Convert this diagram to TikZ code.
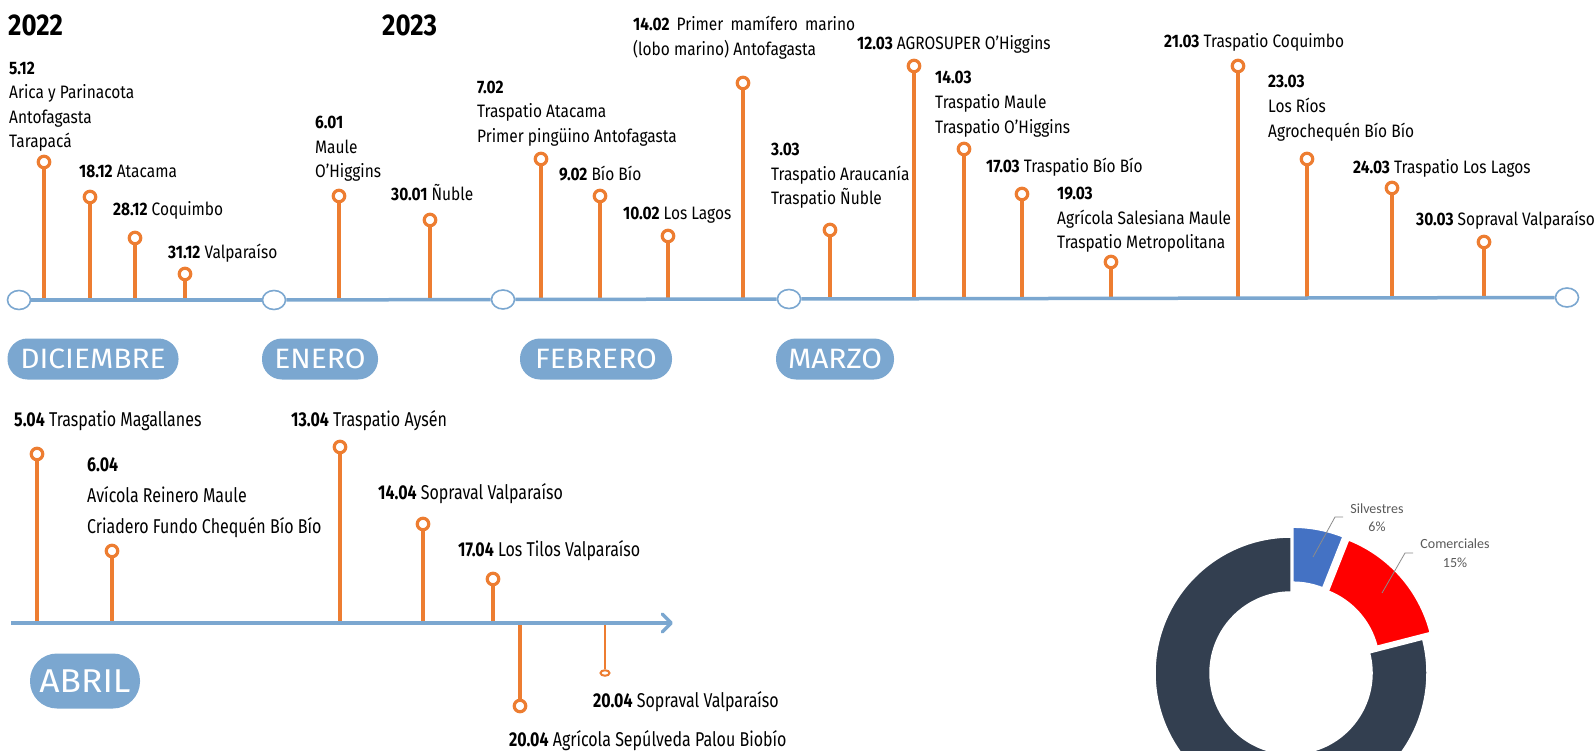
\documentclass[tikz,border=0pt]{standalone}
\usepackage{fontspec}
\setmainfont{Fira Sans}[FakeStretch=0.86]
\newfontfamily\aprfont{Fira Sans}[FakeStretch=0.8]
\newfontfamily\monthfont{Fira Sans}[FakeStretch=1.07]
\newfontfamily\piefont{Carlito}
\usetikzlibrary{shapes.geometric,arrows.meta}
\definecolor{tlblue}{HTML}{7BA7D0}
\definecolor{evorange}{HTML}{ED7D31}
\definecolor{piedark}{HTML}{333F50}
\definecolor{pieblue}{HTML}{4472C4}
\definecolor{piered}{HTML}{FF0000}
\definecolor{piegray}{HTML}{595959}

\begin{document}
\begin{tikzpicture}[x=1pt,y=-1pt,
  axis/.style={draw=tlblue,line width=3.5pt},
  stem/.style={draw=evorange,line width=3.5pt},
  pin/.style={circle,draw=evorange,line width=3.2pt,fill=white,minimum size=11.5pt,inner sep=0pt},
  knot/.style={ellipse,draw=tlblue,line width=1.6pt,fill=white,minimum width=23pt,minimum height=19pt,inner sep=0pt},
  lbl/.style={anchor=west,inner sep=0pt,text height=12.5pt,text depth=0pt,font=\fontsize{18}{21}\selectfont},
  apr/.style={anchor=west,inner sep=0pt,text height=14pt,text depth=0pt,font=\aprfont\fontsize{20}{24}\selectfont},
  month/.style={fill=tlblue,text=white,rounded corners=20pt,minimum height=41pt,inner sep=0pt,font=\monthfont\fontsize{28}{30}\selectfont},
  year/.style={anchor=west,inner sep=0pt,font=\bfseries\fontsize{30}{32}\selectfont},
  pielbl/.style={inner sep=0pt,text=piegray,font=\piefont\fontsize{14}{16}\selectfont},
  leader/.style={draw=piegray!70,line width=0.8pt}]
\clip (0,0) rectangle (1595,751);

% years
\node[year] (y2022) at (8,25) {2022};
\node[year] (y2023) at (382,25) {2023};

% diciembre
\node[pin] (p512) at (44,162) {};
\coordinate (b512) at (44,300);
\draw[stem] (b512) -- (p512);
\node[lbl] (t512a) at (9,68) {\textbf{5.12}};
\node[lbl] (t512b) at (9,92) {Arica y Parinacota};
\node[lbl] (t512c) at (9,117) {Antofagasta};
\node[lbl] (t512d) at (9,141) {Tarapacá};
\node[pin] (p1812) at (90,197) {};
\coordinate (b1812) at (90,300);
\draw[stem] (b1812) -- (p1812);
\node[lbl] (t1812) at (79,171) {\textbf{18.12} Atacama};
\node[pin] (p2812) at (135,238) {};
\coordinate (b2812) at (135,300);
\draw[stem] (b2812) -- (p2812);
\node[lbl] (t2812) at (113,209) {\textbf{28.12} Coquimbo};
\node[pin] (p3112) at (185,274) {};
\coordinate (b3112) at (185,300);
\draw[stem] (b3112) -- (p3112);
\node[lbl] (t3112) at (168,252) {\textbf{31.12} Valparaíso};

% enero
\node[pin] (p601) at (339,196) {};
\coordinate (b601) at (339,300);
\draw[stem] (b601) -- (p601);
\node[lbl] (t601a) at (315,122) {\textbf{6.01}};
\node[lbl] (t601b) at (315,147) {Maule};
\node[lbl] (t601c) at (315,171) {O'Higgins};
\node[pin] (p3001) at (430,220) {};
\coordinate (b3001) at (430,300);
\draw[stem] (b3001) -- (p3001);
\node[lbl] (t3001) at (391,194) {\textbf{30.01} Ñuble};

% febrero
\node[pin] (p702) at (541,159) {};
\coordinate (b702) at (541,299.5);
\draw[stem] (b702) -- (p702);
\node[lbl] (t702a) at (477,87) {\textbf{7.02}};
\node[lbl] (t702b) at (477,111) {Traspatio Atacama};
\node[lbl] (t702c) at (477,136) {Primer pingüino Antofagasta};
\node[pin] (p902) at (600,196) {};
\coordinate (b902) at (600,299.5);
\draw[stem] (b902) -- (p902);
\node[lbl] (t902) at (559,174) {\textbf{9.02} Bío Bío};
\node[pin] (p1002) at (668,236) {};
\coordinate (b1002) at (668,299.5);
\draw[stem] (b1002) -- (p1002);
\node[lbl] (t1002) at (623,213) {\textbf{10.02} Los Lagos};
\node[pin] (p1402) at (743,83) {};
\coordinate (b1402) at (743,299);
\draw[stem] (b1402) -- (p1402);
\node[lbl] (t1402a) at (633,24) {\makebox[222pt][s]{\textbf{14.02} Primer mamífero marino}};
\node[lbl] (t1402b) at (633,49) {(lobo marino) Antofagasta};

% marzo
\node[pin] (p303) at (830,230) {};
\coordinate (b303) at (830,299);
\draw[stem] (b303) -- (p303);
\node[lbl] (t303a) at (771,149) {\textbf{3.03}};
\node[lbl] (t303b) at (771,174) {Traspatio Araucanía};
\node[lbl] (t303c) at (771,198) {Traspatio Ñuble};
\node[pin] (p1203) at (914,66) {};
\coordinate (b1203) at (914,299);
\draw[stem] (b1203) -- (p1203);
\node[lbl] (t1203) at (857,43) {\textbf{12.03} AGROSUPER O'Higgins};
\node[pin] (p1403) at (964,149) {};
\coordinate (b1403) at (964,299);
\draw[stem] (b1403) -- (p1403);
\node[lbl] (t1403a) at (935,77) {\textbf{14.03}};
\node[lbl] (t1403b) at (935,102) {Traspatio Maule};
\node[lbl] (t1403c) at (935,127) {Traspatio O'Higgins};
\node[pin] (p1703) at (1022,194) {};
\coordinate (b1703) at (1022,298.5);
\draw[stem] (b1703) -- (p1703);
\node[lbl] (t1703) at (986,166) {\textbf{17.03} Traspatio Bío Bío};
\node[pin] (p1903) at (1111,262) {};
\coordinate (b1903) at (1111,298.5);
\draw[stem] (b1903) -- (p1903);
\node[lbl] (t1903a) at (1057,193) {\textbf{19.03}};
\node[lbl] (t1903b) at (1057,218) {Agrícola Salesiana Maule};
\node[lbl] (t1903c) at (1057,242) {Traspatio Metropolitana};
\node[pin] (p2103) at (1238,66) {};
\coordinate (b2103) at (1238,298);
\draw[stem] (b2103) -- (p2103);
\node[lbl] (t2103) at (1164,41) {\textbf{21.03} Traspatio Coquimbo};
\node[pin] (p2303) at (1307,159) {};
\coordinate (b2303) at (1307,298);
\draw[stem] (b2303) -- (p2303);
\node[lbl] (t2303a) at (1268,81) {\textbf{23.03}};
\node[lbl] (t2303b) at (1268,106) {Los Ríos};
\node[lbl] (t2303c) at (1268,131) {Agrochequén Bío Bío};
\node[pin] (p2403) at (1392,188) {};
\coordinate (b2403) at (1392,298);
\draw[stem] (b2403) -- (p2403);
\node[lbl] (t2403) at (1353,167) {\textbf{24.03} Traspatio Los Lagos};
\node[pin] (p3003) at (1484,242) {};
\coordinate (b3003) at (1484,297.5);
\draw[stem] (b3003) -- (p3003);
\node[lbl] (t3003) at (1416,219) {\textbf{30.03} Sopraval Valparaíso};

% linea diciembre - marzo
\node[knot] (k1) at (19,300) {};
\node[knot] (k2) at (274,300) {};
\node[knot] (k3) at (503,299.5) {};
\node[knot] (k4) at (789,299) {};
\node[knot] (k5) at (1567,297.5) {};
\draw[axis] (k1) -- (k2);
\draw[axis] (k2) -- (k3);
\draw[axis] (k3) -- (k4);
\draw[axis] (k4) -- (k5);

\node[month,minimum width=171pt] (mdic) at (93,359) {DICIEMBRE};
\node[month,minimum width=116pt] (mene) at (320,359) {ENERO};
\node[month,minimum width=152pt] (mfeb) at (596,359) {FEBRERO};
\node[month,minimum width=118pt] (mmar) at (835,359) {MARZO};

% abril
\node[pin] (p504) at (37,454) {};
\coordinate (b504) at (37,623);
\draw[stem] (b504) -- (p504);
\node[apr] (t504) at (14,419) {\textbf{5.04} Traspatio Magallanes};
\node[pin] (p604) at (112,551) {};
\coordinate (b604) at (112,623);
\draw[stem] (b604) -- (p604);
\node[apr] (t604a) at (87,464) {\textbf{6.04}};
\node[apr] (t604b) at (87,495) {Avícola Reinero Maule};
\node[apr] (t604c) at (87,526) {Criadero Fundo Chequén Bío Bío};
\node[pin] (p1304) at (340,447) {};
\coordinate (b1304) at (340,623);
\draw[stem] (b1304) -- (p1304);
\node[apr] (t1304) at (291,419) {\textbf{13.04} Traspatio Aysén};
\node[pin] (p1404) at (423,524) {};
\coordinate (b1404) at (423,623);
\draw[stem] (b1404) -- (p1404);
\node[apr] (t1404) at (378,492) {\textbf{14.04} Sopraval Valparaíso};
\node[pin] (p1704) at (493,579) {};
\coordinate (b1704) at (493,623);
\draw[stem] (b1704) -- (p1704);
\node[apr] (t1704) at (458,549) {\textbf{17.04} Los Tilos Valparaíso};
\node[pin] (p2004a) at (520,706) {};
\coordinate (b2004a) at (520,623);
\draw[stem] (b2004a) -- (p2004a);
\node[apr] (t2004a) at (509,739) {\textbf{20.04} Agrícola Sepúlveda Palou Biobío};
\node[pin,ellipse,line width=2pt,minimum width=9pt,minimum height=5.5pt] (p2004b) at (605,673) {};
\coordinate (b2004b) at (605,623);
\draw[stem,line width=2.2pt] (b2004b) -- (p2004b);
\node[apr] (t2004b) at (593,700) {\textbf{20.04} Sopraval Valparaíso};

\coordinate (a0) at (11,623);
\coordinate (a1) at (673,623);
\draw[axis,-{Straight Barb[length=9pt,width=18pt,round]}] (a0) -- (a1);

\node[month,minimum width=110pt,minimum height=55pt,rounded corners=27pt,font=\monthfont\fontsize{33}{36}\selectfont] (mabr) at (85,681) {ABRIL};

% grafico
\begin{scope}[shift={(1291,673)}]
\fill[piedark,draw=white,line width=1.5pt] (-90:136) arc[start angle=-90,end angle=-374.4,radius=136] -- (-374.4:81) arc[start angle=-374.4,end angle=-90,radius=81] -- cycle;
\begin{scope}[shift={(1.9,-9.8)}]
\fill[pieblue,draw=white,line width=1.5pt] (-68.4:136) arc[start angle=-68.4,end angle=-90,radius=136] -- (-90:81) arc[start angle=-90,end angle=-68.4,radius=81] -- cycle;
\end{scope}
\begin{scope}[shift={(7.5,-6.6)}]
\fill[piered,draw=white,line width=1.5pt] (-14.4:136) arc[start angle=-14.4,end angle=-68.4,radius=136] -- (-68.4:81) arc[start angle=-68.4,end angle=-14.4,radius=81] -- cycle;
\end{scope}
\end{scope}

\node[pielbl] (lsil) at (1377,509) {Silvestres};
\node[pielbl] (psil) at (1377,527) {6\%};
\node[pielbl] (lcom) at (1455,544) {Comerciales};
\node[pielbl] (pcom) at (1455,563) {15\%};
\coordinate (sil0) at (1313,557);
\coordinate (sil1) at (1335,517);
\coordinate (sil2) at (1343,517);
\draw[leader] (sil0) -- (sil1) -- (sil2);
\coordinate (com0) at (1382,593);
\coordinate (com1) at (1405,553);
\coordinate (com2) at (1413,553);
\draw[leader] (com0) -- (com1) -- (com2);
\end{tikzpicture}
\end{document}
